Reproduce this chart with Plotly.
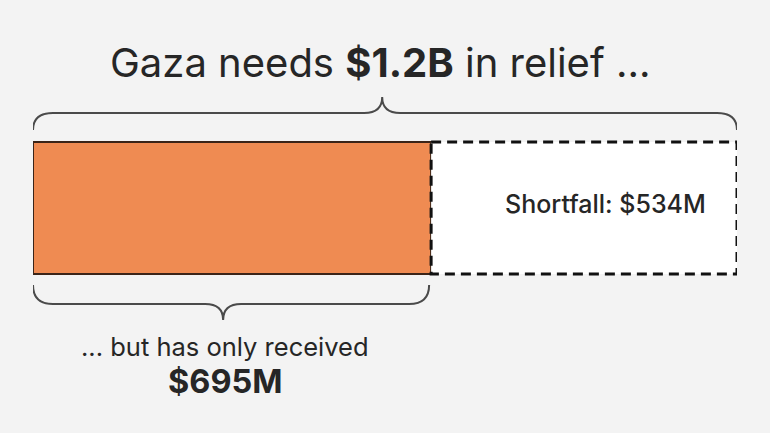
import plotly.graph_objects as go

# Data (millions of US$)
categories = ["Received", "Shortfall"]
values = [695, 534]
total_label = "$1.2B"
received_label = "$695M"
shortfall_label = "$534M"

total = sum(values)
W, H = 770, 433
ML, MR = 33, 33
plot_w = W - ML - MR
px = total / plot_w  # data units per pixel

BG = "#f3f3f3"
ORANGE = "#ef8b52"
INK = "#262626"
BRACE = "#4a4a4a"
FONT = "Inter"

bar_y = 208
bar_h = 132

fig = go.Figure()
fig.add_trace(go.Bar(
    y=[bar_y], x=[values[0]], base=[0], orientation="h", width=bar_h,
    marker=dict(color=ORANGE, line=dict(color="#3b2418", width=2)),
    hoverinfo="skip", showlegend=False, name=categories[0]))
fig.add_trace(go.Bar(
    y=[bar_y], x=[values[1]], base=[values[0]], orientation="h", width=bar_h,
    marker=dict(color="white", line=dict(width=0)),
    hoverinfo="skip", showlegend=False, name=categories[1]))

# dashed outline of shortfall
fig.add_shape(type="rect", xref="x", yref="y",
              x0=values[0], x1=total, y0=bar_y - bar_h / 2, y1=bar_y + bar_h / 2,
              line=dict(color="#111111", width=3, dash="10px,6px"), fillcolor="rgba(0,0,0,0)")


def brace(x0, x1, y_end, y_line, y_tip, frac=0.5, r_px=20, t_px=18):
    r = r_px * px
    t = t_px * px
    xm = x0 + (x1 - x0) * frac
    return (f"M {x0},{y_end} Q {x0},{y_line} {x0 + r},{y_line} "
            f"L {xm - t},{y_line} Q {xm},{y_line} {xm},{y_tip} "
            f"Q {xm},{y_line} {xm + t},{y_line} "
            f"L {x1 - r},{y_line} Q {x1},{y_line} {x1},{y_end}")


fig.add_shape(type="path", xref="x", yref="y",
              path=brace(0, total, 130, 113, 97, frac=0.496), line=dict(color=BRACE, width=2))
fig.add_shape(type="path", xref="x", yref="y",
              path=brace(0, values[0] - 2 * px, 285, 304, 320, frac=0.48), line=dict(color=BRACE, width=2))

fig.add_annotation(x=(380 - ML) * px, xref="x", y=62, yref="y",
                   text=f"Gaza needs <b>{total_label}</b> in relief ...",
                   showarrow=False, font=dict(size=40, color=INK, family=FONT))
fig.add_annotation(x=(605 - ML) * px, xref="x", y=204, yref="y",
                   text=f"Shortfall: {shortfall_label}",
                   showarrow=False, font=dict(size=25, color=INK, family=FONT, weight=500))
fig.add_annotation(x=(225 - ML) * px, xref="x", y=346, yref="y",
                   text="... but has only received",
                   showarrow=False, font=dict(size=25.5, color=INK, family=FONT))
fig.add_annotation(x=(225 - ML) * px, xref="x", y=381, yref="y",
                   text=f"<b>{received_label}</b>",
                   showarrow=False, font=dict(size=32.5, color=INK, family=FONT))

fig.update_layout(
    width=W, height=H, margin=dict(l=ML, r=MR, t=0, b=0),
    paper_bgcolor=BG, plot_bgcolor=BG, barmode="overlay",
    xaxis=dict(range=[0, total], visible=False, fixedrange=True),
    yaxis=dict(range=[H, 0], visible=False, fixedrange=True),
)
fig.write_html("out.html", config={"displayModeBar": False},
               post_script="document.body.style.margin='0';document.body.style.background='%s';" % BG)
